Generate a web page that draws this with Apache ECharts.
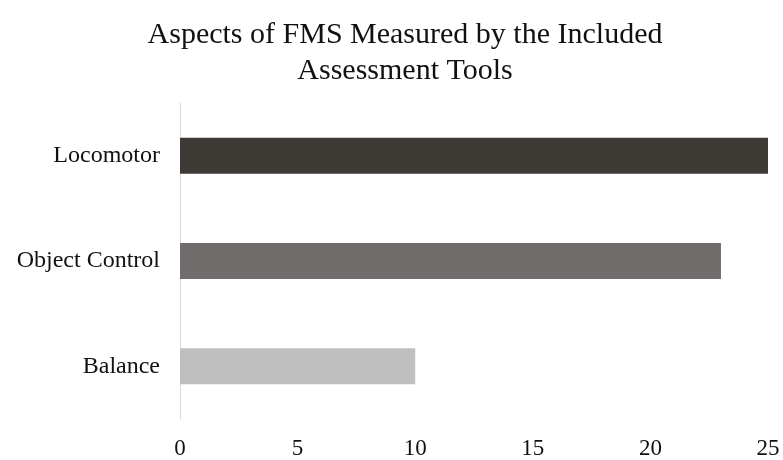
<!DOCTYPE html>
<html>
<head>
<meta charset="utf-8">
<script src="https://cdn.jsdelivr.net/npm/echarts@6/dist/echarts.min.js"></script>
<style>html,body{margin:0;padding:0;background:#fff}#c{width:783px;height:460px}</style>
</head>
<body>
<div id="c"></div>
<script>
const categories = ['Locomotor', 'Object Control', 'Balance'];
const values = [25, 23, 10];
const barColors = ['#3d3935', '#716c6c', '#bfbfbf'];
const xTicks = [0, 5, 10, 15, 20, 25];

const chart = echarts.init(document.getElementById('c'), null, {renderer: 'canvas'});
chart.setOption({
  animation: false,
  backgroundColor: '#ffffff',
  title: {
    text: 'Aspects of FMS Measured by the Included\nAssessment Tools',
    left: 400, top: 12, textAlign: 'center',
    textStyle: {fontFamily: 'Liberation Serif', fontSize: 30, fontWeight: 'normal', color: '#111111', lineHeight: 36}
  },
  grid: {left: 180, right: 15, top: 103, bottom: 38, containLabel: false},
  xAxis: {
    type: 'value', min: xTicks[0], max: xTicks[xTicks.length - 1], interval: 5,
    axisLine: {show: false}, axisTick: {show: false}, splitLine: {show: false},
    axisLabel: {fontFamily: 'Liberation Serif', fontSize: 23, color: '#111111', margin: 18}
  },
  yAxis: {
    type: 'category', data: categories, inverse: true,
    axisLine: {show: true, lineStyle: {color: '#d9d9d9', width: 1}},
    axisTick: {show: false},
    axisLabel: {fontFamily: 'Liberation Serif', fontSize: 24, color: '#111111', margin: 20, padding: [8, 0, 0, 0]}
  },
  series: [{
    type: 'bar',
    data: values.map((v, i) => ({value: v, itemStyle: {color: barColors[i]}})),
    barWidth: 36
  }]
});
</script>
</body>
</html>
